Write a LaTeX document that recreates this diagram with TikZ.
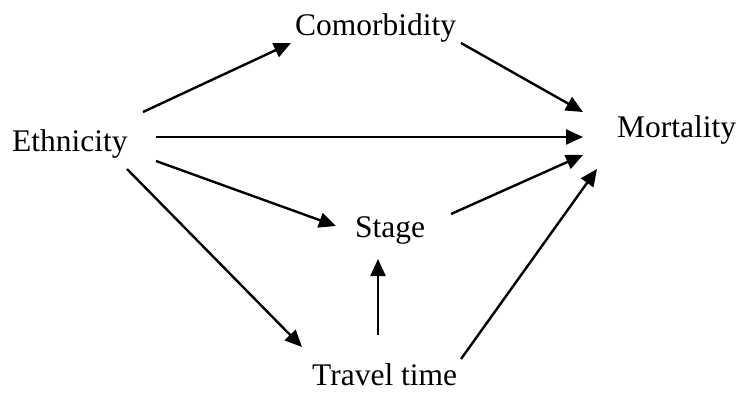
\documentclass[tikz,border=0pt]{standalone}
\usepackage{fontspec}
\setmainfont{Liberation Serif}
\usetikzlibrary{arrows.meta,calc}
\begin{document}
\begin{tikzpicture}[x=1pt,y=-1pt,
  lbl/.style={anchor=base west,inner sep=0pt,font=\fontsize{31.5}{36}\selectfont},
  arr/.style={line width=2.4pt,-{Triangle[length=17pt,width=15pt]}}]
\useasboundingbox (0,0) rectangle (739,400);
\node[lbl] (eth) at (12,151) {Ethnicity};
\node[lbl] (com) at (295,35) {Comorbidity};
\node[lbl] (mor) at (617,137) {Mortality};
\node[lbl] (sta) at (355,237) {Stage};
\node[lbl] (tra) at (312,385) {Travel time};
\draw[arr] ($(eth.base west)+(131,-39)$) -- ($(com.base west)+(-4,8)$);
\draw[arr] ($(com.base west)+(166,8)$) -- ($(mor.base west)+(-34,-25)$);
\draw[arr] ($(eth.base west)+(144,-14)$) -- ($(mor.base west)+(-34,0)$);
\draw[arr] ($(eth.base west)+(144,10)$) -- ($(sta.base west)+(-19,-11)$);
\draw[arr] ($(sta.base west)+(96,-23)$) -- ($(mor.base west)+(-34,18)$);
\draw[arr] ($(eth.base west)+(115,18)$) -- ($(tra.base west)+(-10,-38)$);
\draw[arr] ($(tra.base west)+(66,-50)$) -- ($(sta.base west)+(23,22)$);
\draw[arr] ($(tra.base west)+(149,-26)$) -- ($(mor.base west)+(-20,32)$);
\end{tikzpicture}
\end{document}
